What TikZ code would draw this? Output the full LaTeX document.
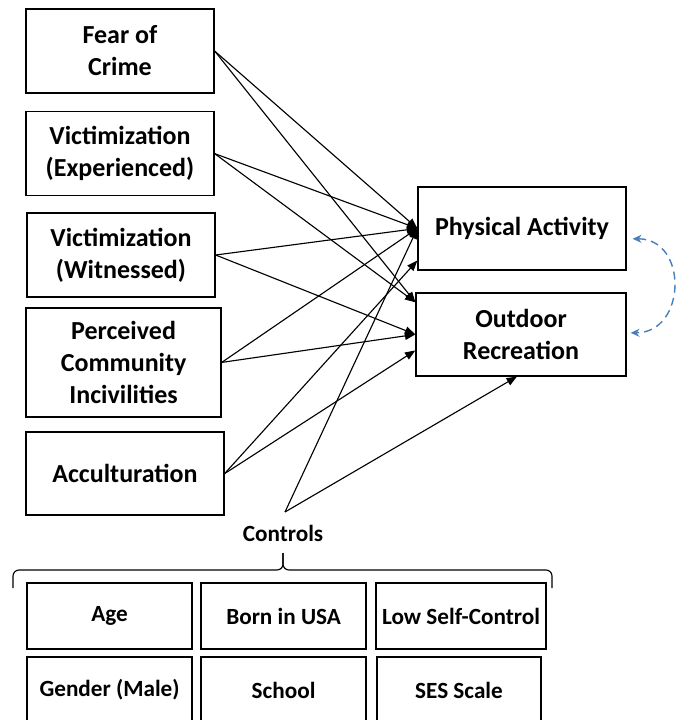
\documentclass[tikz,border=0pt]{standalone}
\usepackage{fontspec}
\setmainfont{Carlito}
\usetikzlibrary{arrows.meta,calc}

\definecolor{corrblue}{RGB}{74,126,187}

\tikzset{
  predictor/.style={rectangle, draw, line width=0.9pt, minimum width=4.7cm, minimum height=2.1cm, align=center, inner sep=1pt, font=\bfseries\fontsize{18.5}{22.7}\selectfont},
  outcome/.style={rectangle, draw, line width=0.9pt, minimum width=5.2cm, minimum height=2.075cm, align=center, inner sep=1pt, font=\bfseries\fontsize{18.5}{22.7}\selectfont},
  control/.style={rectangle, draw, line width=0.9pt, minimum width=4.125cm, minimum height=1.65cm, align=center, inner sep=1pt, font=\bfseries\fontsize{16.5}{20}\selectfont},
  arrow/.style={-{Triangle[length=0.26cm, width=0.2cm]}, line width=0.8pt},
  corr/.style={{Stealth[length=0.22cm, width=0.2cm]}-{Stealth[length=0.22cm, width=0.2cm]}, corrblue, line width=1pt, dash pattern=on 0.2cm off 0.13cm},
}

\begin{document}
\begin{tikzpicture}
  \useasboundingbox (0,0) rectangle (17.1,-18);

  % Praediktoren (linke Spalte)
  \node[predictor] (fear)        at (3.0,   -1.275) {Fear of\\Crime};
  \node[predictor] (experienced) at (3.0,   -3.84)  {Victimization\\(Experienced)};
  \node[predictor] (witnessed)   at (3.025, -6.375) {Victimization\\(Witnessed)};
  \node[predictor, minimum width=4.875cm, minimum height=2.725cm] (incivil) at (3.09, -9.06) {Perceived\\Community\\Incivilities};
  \node[predictor, minimum width=4.95cm, minimum height=2.075cm] (accult) at (3.125, -11.84) {Acculturation};

  % Ergebnisse (rechts)
  \node[outcome] (activity)   at (13.05, -5.71) {Physical Activity};
  \node[outcome, minimum width=5.25cm] (recreation) at (13.025, -8.36) {Outdoor\\Recreation};

  % Kontrollvariablen
  \node[font=\bfseries\fontsize{16.5}{20}\selectfont] (controls) at (7.075, -13.325) {Controls};
  \coordinate (ctrl) at (7.125, -12.8);
  \node[control] (age)      at (2.74,   -15.4)  {Age};
  \node[control] (born)     at (7.09,   -15.4)  {Born in USA};
  \node[control, minimum width=4.25cm] (selfctrl) at (11.525, -15.4) {Low Self-Control};
  \node[control] (gender)   at (2.74,   -17.25) {Gender (Male)};
  \node[control] (school)   at (7.09,   -17.25) {School};
  \node[control, minimum width=4.1cm] (ses) at (11.475, -17.25) {SES Scale};

  % Klammer
  \draw[line width=0.8pt, rounded corners=0.15cm] (0.325,-14.7) |- (7.075,-14.25) -- (7.075,-13.825);
  \draw[line width=0.8pt, rounded corners=0.15cm] (13.8,-14.7)  |- (7.075,-14.25) -- (7.075,-13.825);

  % Zielpunkte
  \coordinate (actlow) at ($(activity.south west)+(0,0.25)$);
  \coordinate (rectop) at ($(recreation.north west)+(0,-0.25)$);
  \coordinate (reclow) at ($(recreation.west)+(0,-0.4)$);
  \coordinate (recbot) at ($(recreation.south)+(-0.1,0)$);

  % Verbindungen
  \draw[arrow] (fear.east)        -- (activity.west);
  \draw[arrow] (fear.east)        -- (rectop);
  \draw[arrow] (experienced.east) -- (activity.west);
  \draw[arrow] (experienced.east) -- (rectop);
  \draw[arrow] (witnessed.east)   -- (activity.west);
  \draw[arrow] (witnessed.east)   -- (recreation.west);
  \draw[arrow] (incivil.east)     -- (activity.west);
  \draw[arrow] (incivil.east)     -- (recreation.west);
  \draw[arrow] (accult.east)      -- (actlow);
  \draw[arrow] (accult.east)      -- (reclow);
  \draw[arrow] (ctrl)             -- (activity.west);
  \draw[arrow] (ctrl)             -- (recbot);

  % Korrelation der Ergebnisse
  \draw[corr] ($(activity.east)+(0.15,-0.26)$) .. controls +(1.4,0) and +(1.4,0) .. ($(recreation.east)+(0.1,0.04)$);
\end{tikzpicture}
\end{document}
